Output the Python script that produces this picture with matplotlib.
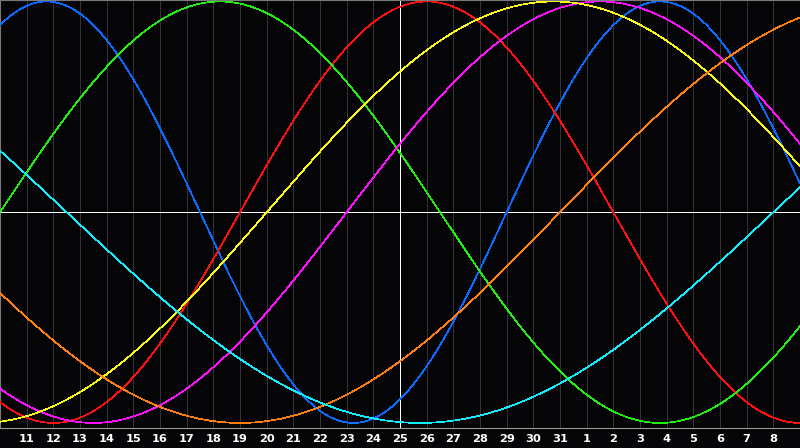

# -*- coding: utf-8 -*-
""" Biorhythm chart: seven cycles over a 30 day window. """

import numpy as np
import matplotlib
matplotlib.use('Agg')
import matplotlib.pyplot as plt


### Chart data ###

CYCLE_NAMES = ['physical', 'emotional', 'intellectual', 'intuitive',
               'aesthetic', 'awareness', 'spiritual']
CYCLE_DAYS = [23, 28, 33, 38, 43, 48, 53]
CYCLE_COLORS = ['#0a6cff', '#ff1111', '#22ee11', '#ff11ff',
                '#ffff11', '#ff8010', '#11eeff']

# days lived at the left edge of the window (the 10th)
DAYS_LIVED = 19899
WINDOW_DAYS = 30
TODAY_OFFSET = 15   # the 25th

DAY_LABELS = ['11', '12', '13', '14', '15', '16', '17', '18', '19', '20',
              '21', '22', '23', '24', '25', '26', '27', '28', '29', '30',
              '31', '1', '2', '3', '4', '5', '6', '7', '8']

BG = '#050507'
GRID = '#333333'


def cycle_value(days, period):
    return np.sin(2 * np.pi * days / period)


def make_chart(path='out.png'):
    fig = plt.figure(figsize=(8, 4.48), dpi=100, facecolor=BG)
    ax = fig.add_axes([0, 20 / 448, 1, 428 / 448])
    ax.set_facecolor(BG)

    xs = np.linspace(0, WINDOW_DAYS, 1601)
    for name, period, color in zip(CYCLE_NAMES, CYCLE_DAYS, CYCLE_COLORS):
        ax.plot(xs, cycle_value(DAYS_LIVED + xs, period), color=color,
                lw=0.5, antialiased=False, label=name, zorder=3)

    for i, lab in enumerate(DAY_LABELS):
        d = i + 1
        if d != TODAY_OFFSET:
            ax.axvline(d, color=GRID, lw=0.5, antialiased=False, zorder=1)
        ax.text(d, -1.075, lab, color='white', fontsize=8.2,
                fontweight='bold', ha='center', va='center',
                family='DejaVu Sans', clip_on=False)

    ax.axvline(TODAY_OFFSET, color='white', lw=0.5, antialiased=False,
               zorder=2)
    ax.axhline(0, color='white', lw=0.5, antialiased=False, zorder=2)

    ax.set_xlim(0, WINDOW_DAYS)
    ax.set_ylim(-1.024, 1.007)
    ax.set_xticks([])
    ax.set_yticks([])
    for side in ['top', 'left']:
        ax.spines[side].set_color('#7a7a7a')
        ax.spines[side].set_linewidth(0.8)
    ax.spines['bottom'].set_color('#9a9a9a')
    ax.spines['bottom'].set_linewidth(0.8)
    ax.spines['right'].set_visible(False)

    fig.savefig(path, dpi=100, facecolor=BG)
    plt.close(fig)


if __name__ == '__main__':
    make_chart()
